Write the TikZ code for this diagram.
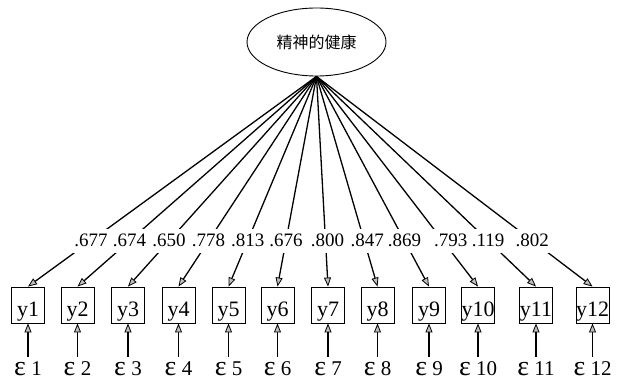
\documentclass[tikz,border=0pt]{standalone}
\usepackage{fontspec}
\setmainfont{Liberation Serif}
\newfontfamily\cjkfont{Noto Sans CJK SC}
\usetikzlibrary{shapes.geometric,arrows.meta}

\begin{document}
\begin{tikzpicture}[x=1pt,y=-1pt,
  latent/.style={draw,ellipse,line width=0.9pt,minimum width=139pt,minimum height=68pt,inner sep=0pt,font=\cjkfont\fontsize{16}{16}\selectfont},
  obsbox/.style={draw,rectangle,line width=0.9pt,minimum width=33pt,inner xsep=0pt,inner ysep=0pt,text height=29pt,text depth=7pt,font=\fontsize{22}{22}\selectfont},
  errlabel/.style={anchor=base,inner sep=1pt,font=\fontsize{21}{21}\selectfont},
  loadlabel/.style={fill=white,inner xsep=1pt,inner ysep=5.5pt,font=\fontsize{19}{19}\selectfont},
  path/.style={line width=1.3pt,-{Triangle[length=9pt,width=7pt,fill=gray!50,line width=0.8pt]}}
]
\useasboundingbox (0,0) rectangle (617,382);

% latent factor
\node[latent] (lv) at (316.5,42) {精神的健康};

% observed indicators and their error terms
\foreach \i/\x in {1/28,2/77.5,3/128,4/178.5,5/228.5,6/277.5,7/328,8/377.5,9/429,10/478,11/536,12/592.5}{
  \node[obsbox] (y\i) at (\x,305) {y\i};
  \node[errlabel] (e\i) at (\x,375) {{\fontsize{28}{28}\selectfont ε} \i};
  \draw[path,shorten <=3pt] (e\i) -- (y\i);
}

% factor loadings, labelled on their paths
\foreach \i/\s/\v in {1/0/.677,2/0/.674,3/0/.650,4/0/.778,5/0/.813,6/0/.676,
                      7/2/.800,8/3/.847,9/0/.869,10/8/.793,11/0/.119,12/0/.802}{
  \draw[path] (lv.south) -- node[loadlabel,pos=0.782,xshift=\s pt] (l\i) {\v} (y\i.north);
}
\end{tikzpicture}
\end{document}
